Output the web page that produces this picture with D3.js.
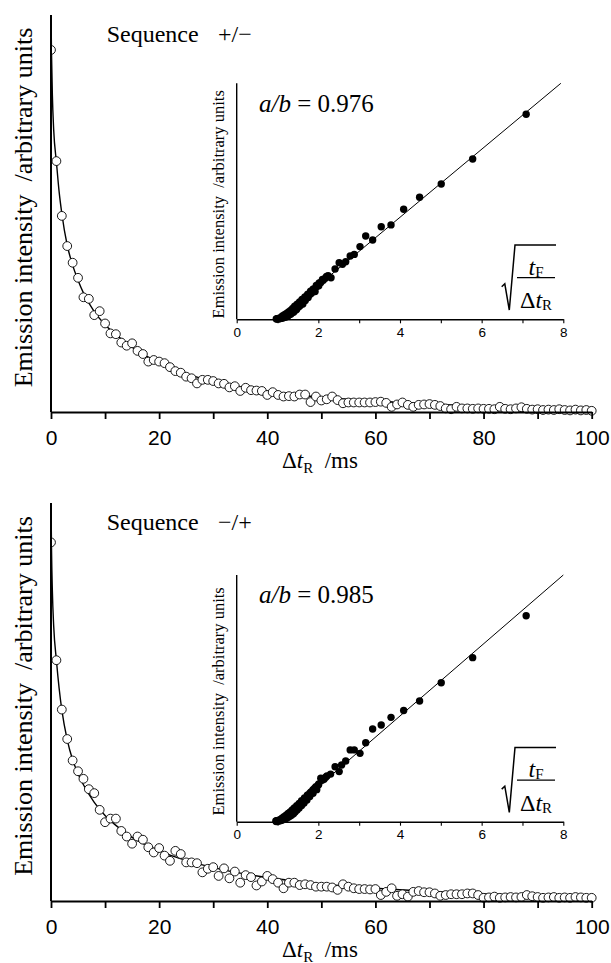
<!DOCTYPE html>
<html><head><meta charset="utf-8">
<script src="https://cdn.jsdelivr.net/npm/d3@7"></script>
<style>body{margin:0;background:#fff}svg{display:block}</style>
</head><body>
<script>
// ---------- DATA ----------
const times = [0,1,2,3,4,5,6,7,8,9,10,11,12,13,14,15,16,17,18,19,20,21,22,23,24,25,26,27,28,29,30,31,32,33,34,35,36,37,38,39,40,41,42,43,44,45,46,47,48,49,50,51,52,53,54,55,56,57,58,59,60,61,62,63,64,65,66,67,68,69,70,71,72,73,74,75,76,77,78,79,80,81,82,83,84,85,86,87,88,89,90,91,92,93,94,95,96,97,98,99,100];
const intensityPlusMinus = [91.2,63.2,49.4,41.8,37.6,33.8,28.9,28.5,24.4,25.4,22.3,19.8,19.6,17.5,16.7,17.3,15.4,14.6,12.7,13.1,12.7,12.3,11.3,10.3,9.9,8.9,8.5,7.2,8.1,8.1,7.8,7.2,7.1,6.2,6.5,5.3,6.1,5.5,5.4,5.3,4.3,5.0,4.3,3.9,4.0,3.9,4.4,4.4,2.5,3.9,2.9,3.2,3.9,3.0,2.2,2.4,2.4,2.4,2.4,2.4,2.5,2.6,2.3,1.3,1.9,2.4,1.8,1.3,1.8,1.9,2.0,1.8,1.5,0.9,0.7,1.3,0.9,0.9,0.8,0.9,0.8,0.8,0.7,1.3,0.8,0.7,0.9,1.2,0.8,0.6,0.7,0.5,0.6,0.5,0.7,0.5,0.4,0.6,0.4,0.5,0.3];
const intensityMinusPlus = [90.1,60.5,48.1,40.7,35.3,32.6,30.7,28.1,27.1,22.9,19.8,20.7,20.7,17.6,16.2,14.4,16.2,15.4,13.5,12.2,13.3,11.4,10.1,12.6,11.8,9.7,9.7,9.5,7.2,8.1,8.5,6.3,8.2,5.7,7.4,4.6,6.5,6.0,3.9,4.9,6.3,5.5,4.6,3.2,4.6,4.6,4.0,4.2,4.0,3.6,3.6,3.6,3.4,2.8,4.2,3.6,3.2,3.0,3.0,2.9,3.0,1.5,2.3,3.2,1.3,1.7,1.1,2.3,2.5,2.2,2.2,1.9,1.3,1.5,1.7,1.7,1.7,1.9,1.9,1.5,0.8,0.9,1.1,0.8,0.9,1.0,0.9,1.0,1.5,1.2,1.0,0.8,0.9,1.0,0.8,0.9,0.8,1.0,0.9,0.8,0.8];
const fitTimes = [0,0.1,0.25,0.5,1,1.5,2,3,4,5,6,8,10,12,15,20,25,30,35,40,50,60,70,80,90,100];
const fitPlusMinus = [100,90,80,71,63,55.5,50,42,37,33.2,30,25.3,22,19.5,16.3,12.4,9.6,7.8,6.4,5.3,3.7,2.8,2.0,1.4,0.9,0.6];
const fitMinusPlus = [100,88,78,69,60.5,53.5,48,40.5,35.5,32,29.2,24.8,21.5,19,16,12.6,10.2,8.4,7.0,5.9,4.3,3.2,2.4,1.8,1.3,0.9];

const insetXPlusMinus = [7.09,5.78,5.01,4.48,4.09,3.78,3.54,3.33,3.16,3.02,2.88,2.78,2.67,2.59,2.51,2.41,2.31,2.24,2.17,2.12,2.06,2.01,1.96,1.92,1.87,1.83,1.79,1.75,1.72,1.68,1.65,1.62,1.59,1.56,1.53,1.51,1.48,1.46,1.43,1.41,1.39,1.36,1.34,1.32,1.30,1.28,1.26,1.24,1.22,1.20,1.18,1.16,1.15,1.13,1.11,1.10,1.08,1.07,1.05,1.04,1.02,1.01,1.00,0.98,0.97,
  2.20,2.10,2.02,1.95,1.88,1.81,1.74,1.67,1.60,1.54,1.48,1.42,1.37,1.32,1.27,1.22,1.17,1.12];
const insetYPlusMinus = [86.9,67.9,57.3,51.7,46.6,40.0,39.2,33.6,35.3,30.8,27.5,26.8,24.4,23.3,24.0,21.3,17.6,18.5,17.4,16.5,15.6,14.2,13.9,11.8,12.6,11.0,10.5,9.2,9.9,8.0,7.8,6.5,7.2,6.0,5.4,5.9,4.6,4.0,4.3,3.4,3.0,3.6,2.6,2.1,2.8,1.9,1.5,2.2,1.2,1.0,1.6,0.8,1.3,0.6,1.0,0.4,0.7,0.3,0.5,0.2,0.4,0.1,0.3,0.1,0.2,
  18.2,16.9,15.4,14.3,12.9,11.9,10.6,9.5,8.4,7.3,6.4,5.5,4.6,3.8,3.1,2.5,1.9,1.4];
const insetXMinusPlus = [7.09,5.78,5.01,4.48,4.09,3.78,3.54,3.33,3.16,3.02,2.88,2.78,2.67,2.57,2.51,2.41,2.30,2.21,2.14,2.06,2.00,1.96,1.91,1.87,1.83,1.79,1.75,1.72,1.68,1.65,1.62,1.59,1.56,1.53,1.51,1.48,1.46,1.43,1.41,1.39,1.36,1.34,1.32,1.30,1.28,1.26,1.24,1.22,1.20,1.18,1.16,1.15,1.13,1.11,1.10,1.08,1.07,1.05,1.04,1.02,1.01,1.00,0.98,0.97,0.96,
  2.18,2.09,2.01,1.94,1.87,1.80,1.73,1.66,1.59,1.53,1.47,1.41,1.36,1.31,1.26,1.21,1.16,1.11];
const insetYMinusPlus = [83.5,66.5,56.3,48.9,45.1,42.3,39.2,37.6,32.0,27.7,29.1,29.1,24.6,23.0,20.3,22.3,19.3,18.5,17.2,17.6,14.9,13.0,13.6,11.5,12.2,10.2,10.8,8.8,9.4,7.6,8.2,6.6,7.0,5.6,6.0,4.7,5.2,3.9,4.4,3.2,3.6,2.6,3.0,2.2,2.6,1.8,2.3,1.4,1.8,1.1,1.5,0.9,1.2,0.7,1.0,0.5,0.8,0.4,0.6,0.3,0.5,0.2,0.4,0.1,0.3,
  18.0,16.8,15.3,14.2,13.0,11.8,10.7,9.6,8.5,7.4,6.5,5.6,4.8,4.0,3.3,2.6,2.0,1.4];
const insetFitXPlusMinus = [1.0,7.94];
const insetFitXMinusPlus = [1.0,8.0];
const insetFitY = [0,100];

const mainXTicksMajor = [0,20,40,60,80,100];
const mainXTicksMinor = [10,30,50,70,90];
const insetXTicksMajor = [0,2,4,6,8];
const insetXTicksMinor = [1,3,5,7];
const sequenceLabels = ["+/\u2212","\u2212/+"];
const ratioLabels = ["0.976","0.985"];

// ---------- DRAW ----------
const W = 611, H = 963;
const svg = d3.select("body").append("svg").attr("width", W).attr("height", H);
const SERIF = "'Liberation Serif','Times New Roman',serif";
const SANS = "'Liberation Sans',Arial,sans-serif";

function drawPanel(p) {
  const g = svg.append("g");
  const x = d3.scaleLinear().domain([0, 100]).range([51, 591.7]);
  const y = d3.scaleLinear().domain([0, 100]).range([p.bottom, p.top]);
  const clipId = "clip" + p.id;
  svg.append("clipPath").attr("id", clipId).append("rect")
    .attr("x", 51).attr("y", p.top).attr("width", 550).attr("height", p.bottom - p.top + 6);

  g.append("path")
    .datum(fitTimes.map((t, i) => [t, p.fit[i]]))
    .attr("clip-path", `url(#${clipId})`)
    .attr("fill", "none").attr("stroke", "#000").attr("stroke-width", 1.4)
    .attr("d", d3.line().x(d => x(d[0])).y(d => y(d[1])).curve(d3.curveMonotoneX));

  g.append("g").attr("clip-path", `url(#${clipId})`)
    .selectAll("circle").data(times.map((t, i) => [t, p.vals[i]])).join("circle")
    .attr("cx", d => x(d[0])).attr("cy", d => y(d[1])).attr("r", 4.4)
    .attr("fill", "#fff").attr("stroke", "#000").attr("stroke-width", 0.9);

  const axG = g.append("g").attr("transform", `translate(0,${p.bottom})`);
  axG.call(d3.axisBottom(x).tickValues(mainXTicksMajor).tickSize(7).tickSizeOuter(0).tickPadding(11).tickFormat(d3.format("d")));
  const axMin = g.append("g").attr("transform", `translate(0,${p.bottom})`);
  axMin.call(d3.axisBottom(x).tickValues(mainXTicksMinor).tickSize(7).tickSizeOuter(0).tickFormat(""));
  axMin.select(".domain").remove();
  [axG, axMin].forEach(a => {
    a.select(".domain").attr("stroke-width", 2);
    a.selectAll(".tick line").attr("stroke-width", 1.8);
  });
  axG.selectAll(".tick text").attr("font-family", SANS).attr("font-size", 21).attr("fill", "#000");

  g.append("line").attr("x1", 51).attr("x2", 51).attr("y1", p.top).attr("y2", p.bottom)
    .attr("stroke", "#000").attr("stroke-width", 2);

  const xl = g.append("text").attr("x", 320).attr("y", p.bottom + 55.7)
    .attr("text-anchor", "middle").attr("font-family", SERIF).attr("font-size", 23)
    .style("white-space", "pre");
  xl.append("tspan").text("\u0394");
  xl.append("tspan").attr("font-style", "italic").text("t");
  xl.append("tspan").attr("font-size", 15).attr("dy", 5).text("R");
  xl.append("tspan").attr("dy", -5).text("  /ms");

  g.append("text").attr("transform", `translate(31.7,${(p.top + p.bottom) / 2 - 6}) rotate(-90)`)
    .attr("text-anchor", "middle").attr("font-family", SERIF).attr("font-size", 26)
    .style("white-space", "pre").text("Emission intensity  /arbitrary units");

  const sq = g.append("text").attr("y", p.top + 26.8).attr("font-family", SERIF).attr("font-size", 24);
  sq.append("tspan").attr("x", 106.7).text("Sequence");
  sq.append("tspan").attr("x", 218).text(p.seq);

  // ----- inset -----
  const ix = d3.scaleLinear().domain([0, 8]).range([236.7, 563.3]);
  const iy = d3.scaleLinear().domain([0, 100]).range([p.iBottom, p.iTop]);
  const ig = g.append("g");

  ig.append("path")
    .datum(p.iFitX.map((v, i) => [v, insetFitY[i]]))
    .attr("fill", "none").attr("stroke", "#000").attr("stroke-width", 1)
    .attr("d", d3.line().x(d => ix(d[0])).y(d => iy(d[1])));

  ig.append("g").selectAll("circle").data(p.iX.map((v, i) => [v, p.iY[i]])).join("circle")
    .attr("cx", d => ix(d[0])).attr("cy", d => iy(d[1])).attr("r", 3.7).attr("fill", "#000");

  const iax = ig.append("g").attr("transform", `translate(0,${p.iBottom})`);
  iax.call(d3.axisBottom(ix).tickValues(insetXTicksMajor).tickSize(4).tickSizeOuter(0).tickPadding(4).tickFormat(d3.format("d")));
  const iaxm = ig.append("g").attr("transform", `translate(0,${p.iBottom})`);
  iaxm.call(d3.axisBottom(ix).tickValues(insetXTicksMinor).tickSize(4).tickSizeOuter(0).tickFormat(""));
  iaxm.select(".domain").remove();
  [iax, iaxm].forEach(a => {
    a.select(".domain").attr("stroke-width", 1.4);
    a.selectAll(".tick line").attr("stroke-width", 1.1);
  });
  iax.selectAll(".tick text").attr("font-family", SANS).attr("font-size", 13.5).attr("fill", "#000");

  ig.append("line").attr("x1", 236.7).attr("x2", 236.7).attr("y1", p.iTop).attr("y2", p.iBottom)
    .attr("stroke", "#000").attr("stroke-width", 1.4);

  ig.append("text").attr("transform", `translate(224,${(p.iTop + p.iBottom) / 2 + 3}) rotate(-90)`)
    .attr("text-anchor", "middle").attr("font-family", SERIF).attr("font-size", 16.5).attr("fill", "#000")
    .style("white-space", "pre").text("Emission intensity  /arbitrary units");

  const rt = ig.append("text").attr("x", 259).attr("y", p.iTop + 28.4)
    .attr("font-family", SERIF).attr("font-size", 25).style("white-space", "pre");
  rt.append("tspan").attr("font-style", "italic").text("a/b");
  rt.append("tspan").text(" = " + p.ratio);

  const B = p.iBottom;
  ig.append("path")
    .attr("d", `M501.7,${B - 32.6} L504.8,${B - 35.5} L509.3,${B - 9.3} L515,${B - 74.3} L556,${B - 74.3}`)
    .attr("fill", "none").attr("stroke", "#000").attr("stroke-width", 1.5).attr("stroke-linejoin", "miter");
  ig.append("line").attr("x1", 517).attr("x2", 555).attr("y1", B - 41.6).attr("y2", B - 41.6)
    .attr("stroke", "#000").attr("stroke-width", 1.3);
  const num = ig.append("text").attr("x", 536).attr("y", B - 44.3).attr("text-anchor", "middle")
    .attr("font-family", SERIF).attr("font-size", 24);
  num.append("tspan").attr("font-style", "italic").text("t");
  num.append("tspan").attr("font-size", 15).attr("dy", 2).text("F");
  const den = ig.append("text").attr("x", 536).attr("y", B - 11).attr("text-anchor", "middle")
    .attr("font-family", SERIF).attr("font-size", 24);
  den.append("tspan").text("\u0394");
  den.append("tspan").attr("font-style", "italic").text("t");
  den.append("tspan").attr("font-size", 15).attr("dy", 2).text("R");
}

drawPanel({ id: "a", top: 15, bottom: 412, vals: intensityPlusMinus, fit: fitPlusMinus, seq: sequenceLabels[0],
  iTop: 83.3, iBottom: 319.3, iX: insetXPlusMinus, iY: insetYPlusMinus, iFitX: insetFitXPlusMinus, ratio: ratioLabels[0] });
drawPanel({ id: "b", top: 503, bottom: 901, vals: intensityMinusPlus, fit: fitMinusPlus, seq: sequenceLabels[1],
  iTop: 575, iBottom: 821.7, iX: insetXMinusPlus, iY: insetYMinusPlus, iFitX: insetFitXMinusPlus, ratio: ratioLabels[1] });
</script>
</body></html>
